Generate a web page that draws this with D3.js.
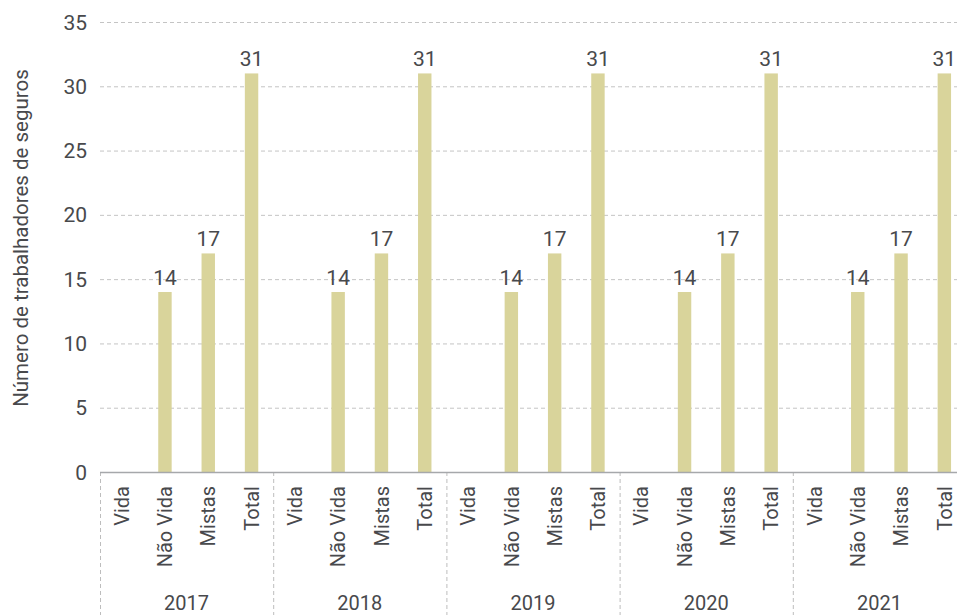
<!DOCTYPE html>
<html>
<head>
<meta charset="utf-8">
<script src="https://cdn.jsdelivr.net/npm/d3@7"></script>
<style>
  body { margin: 0; background: #fff; }
  svg { display: block; font-family: Roboto, "Noto Sans", sans-serif; }
</style>
</head>
<body>
<svg id="chart" width="957" height="615"></svg>
<script>
// Insurance workers per year and category
const years = ["2017", "2018", "2019", "2020", "2021"];
const categories = ["Vida", "Não Vida", "Mistas", "Total"];
const values2017 = [0, 14, 17, 31];
const values2018 = [0, 14, 17, 31];
const values2019 = [0, 14, 17, 31];
const values2020 = [0, 14, 17, 31];
const values2021 = [0, 14, 17, 31];
const seriesByYear = [values2017, values2018, values2019, values2020, values2021];
const yTicks = [0, 5, 10, 15, 20, 25, 30, 35];

const rows = [];
years.forEach((yr, i) => {
  categories.forEach((c, j) => {
    rows.push({ key: yr + "|" + c, year: yr, cat: c, value: seriesByYear[i][j] });
  });
});

const svg = d3.select("#chart");
const plotLeft = 100, plotRight = 966, plotTop = 22, plotBottom = 472;
const textColor = "#48494c";

const x = d3.scaleBand().domain(rows.map(d => d.key)).range([plotLeft, plotRight]).paddingInner(0.69).paddingOuter(0.345);
const xYear = d3.scaleBand().domain(years).range([plotLeft, plotRight]);
const y = d3.scaleLinear().domain([0, 35]).range([plotBottom, plotTop]);

// horizontal grid
svg.append("g").selectAll("line").data(yTicks.filter(t => t > 0)).join("line")
  .attr("x1", plotLeft).attr("x2", 957)
  .attr("y1", d => y(d) + 0.5).attr("y2", d => y(d) + 0.5)
  .attr("stroke", "#c4c4c4").attr("stroke-width", 1).attr("stroke-dasharray", "4,3");

// y tick labels
svg.append("g").selectAll("text").data(yTicks).join("text")
  .attr("x", 87).attr("y", d => y(d)).attr("dy", "0.36em")
  .attr("text-anchor", "end").attr("font-size", 21).attr("fill", textColor)
  .text(d => d);

// year separators
svg.append("g").selectAll("line").data(years).join("line")
  .attr("x1", d => xYear(d) + 0.5).attr("x2", d => xYear(d) + 0.5)
  .attr("y1", plotBottom).attr("y2", 615)
  .attr("stroke", "#bdbdbd").attr("stroke-width", 1).attr("stroke-dasharray", "4,3");

// bars
svg.append("g").selectAll("rect").data(rows).join("rect")
  .attr("x", d => x(d.key)).attr("width", x.bandwidth())
  .attr("y", d => y(d.value)).attr("height", d => y(0) - y(d.value))
  .attr("fill", "#d9d49b");

// value labels
svg.append("g").selectAll("text").data(rows.filter(d => d.value > 0)).join("text")
  .attr("x", d => x(d.key) + x.bandwidth() / 2).attr("y", d => y(d.value) - 7)
  .attr("text-anchor", "middle").attr("font-size", 21).attr("fill", textColor)
  .text(d => d.value);

// baseline
svg.append("line").attr("x1", plotLeft).attr("x2", 957).attr("y1", plotBottom + 0.5).attr("y2", plotBottom + 0.5)
  .attr("stroke", "#a6a8ab").attr("stroke-width", 1.5);

// category labels
svg.append("g").selectAll("text").data(rows).join("text")
  .attr("transform", d => `translate(${x(d.key) + x.bandwidth() / 2},486) rotate(-90)`)
  .attr("dy", "0.36em").attr("text-anchor", "end").attr("font-size", 20).attr("fill", textColor)
  .text(d => d.cat);

// year labels
svg.append("g").selectAll("text").data(years).join("text")
  .attr("x", d => xYear(d) + xYear.bandwidth() / 2).attr("y", 610)
  .attr("text-anchor", "middle").attr("font-size", 20).attr("fill", textColor)
  .text(d => d);

// y axis title
svg.append("text")
  .attr("transform", `translate(21,238) rotate(-90)`)
  .attr("text-anchor", "middle").attr("dy", "0.35em").attr("font-size", 20.5).attr("fill", textColor)
  .text("Número de trabalhadores de seguros");
</script>
</body>
</html>
